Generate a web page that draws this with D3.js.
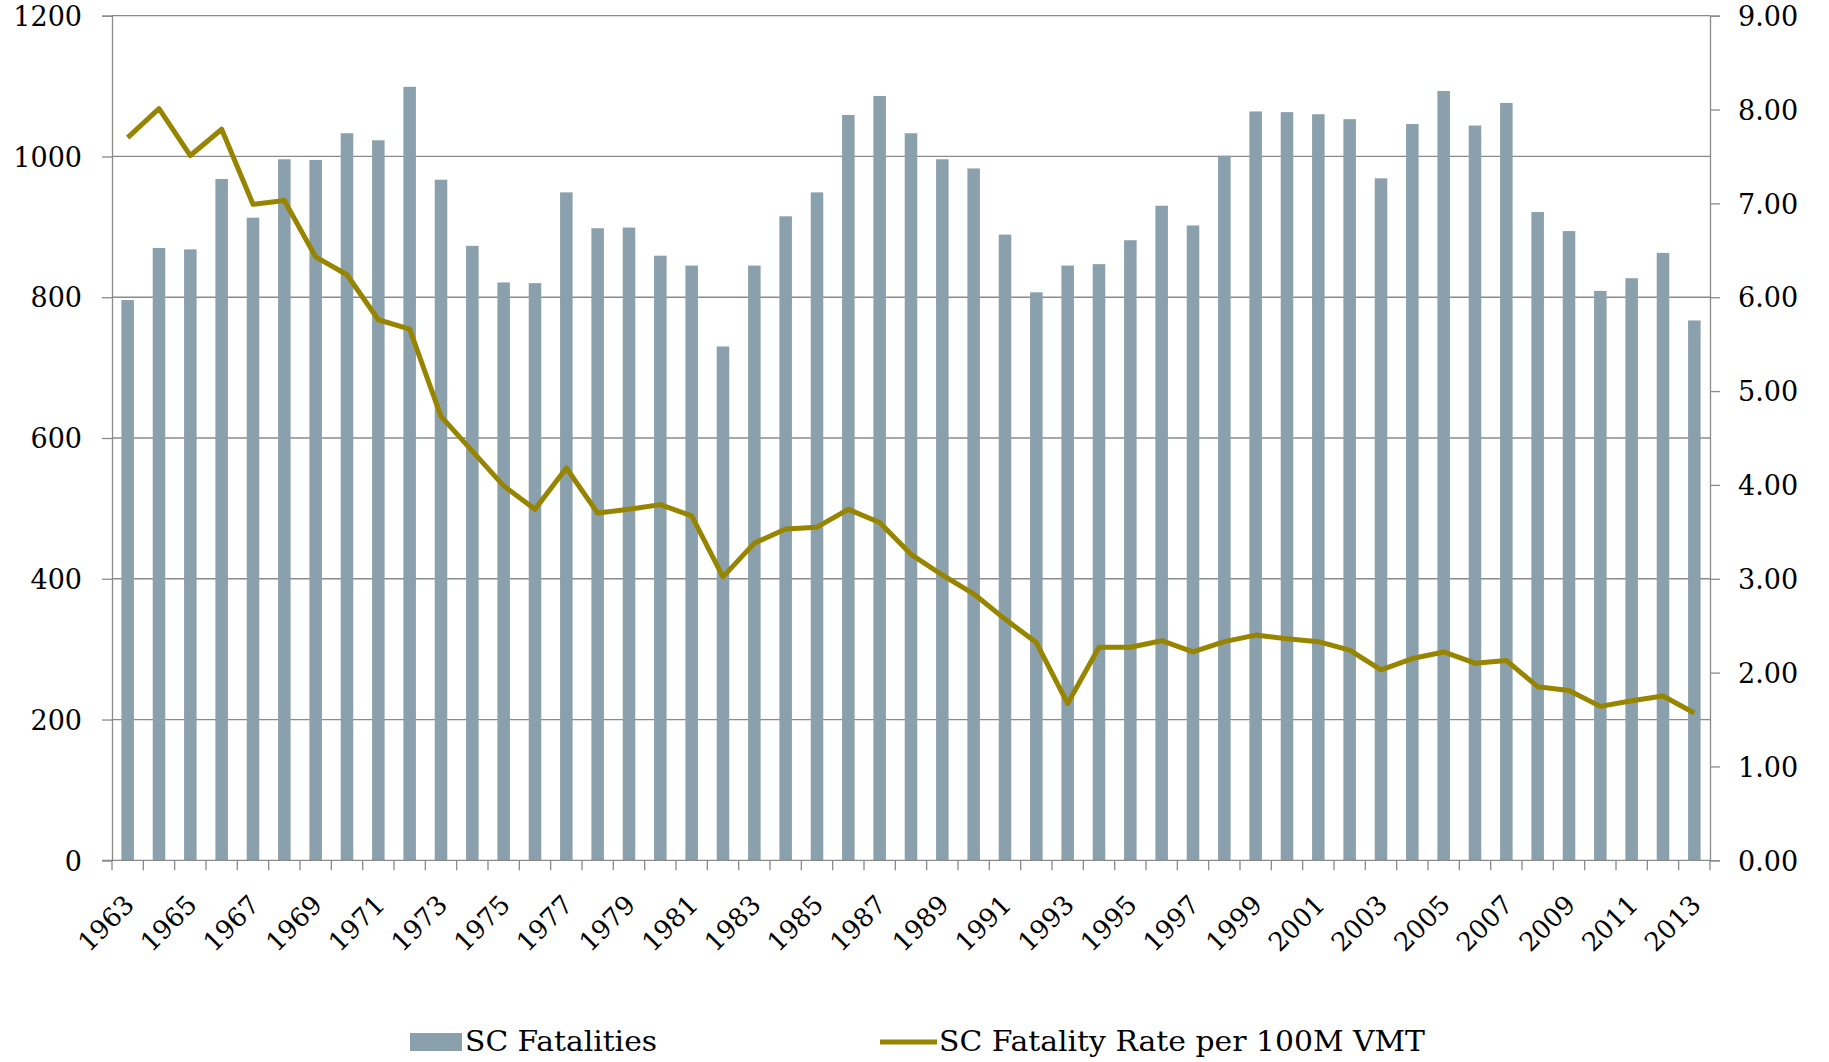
<!DOCTYPE html>
<html>
<head>
<meta charset="utf-8">
<script src="https://cdn.jsdelivr.net/npm/d3@7"></script>
<style>
  body { margin: 0; background: #fff; }
  svg text { font-family: "DejaVu Serif", Georgia, serif; fill: #000; }
</style>
</head>
<body>
<div id="chart"></div>
<script>
/*  Data  */
var years = d3.range(1963, 2014);
var fatalities = [796, 870, 868, 968, 913, 996, 995, 1033, 1023, 1099,
                  967, 873, 821, 820, 949, 898, 899, 859, 845, 730,
                  845, 915, 949, 1059, 1086, 1033, 996, 983, 889, 807,
                  845, 847, 881, 930, 902, 1001, 1064, 1063, 1060, 1053,
                  969, 1046, 1093, 1044, 1076, 921, 894, 809, 827, 863, 767];
var rates = [7.70, 8.01, 7.51, 7.79, 6.99, 7.03, 6.43, 6.24, 5.76, 5.66,
             4.73, 4.36, 3.99, 3.74, 4.18, 3.70, 3.74, 3.79, 3.67, 3.02,
             3.38, 3.53, 3.55, 3.74, 3.60, 3.26, 3.04, 2.84, 2.57, 2.32,
             1.67, 2.27, 2.27, 2.34, 2.22, 2.33, 2.40, 2.36, 2.33, 2.24,
             2.03, 2.15, 2.22, 2.10, 2.13, 1.85, 1.81, 1.64, 1.70, 1.75, 1.57];
var leftTicks = [0, 200, 400, 600, 800, 1000, 1200];
var rightTicks = [0, 1, 2, 3, 4, 5, 6, 7, 8, 9];
var seriesNames = ["SC Fatalities", "SC Fatality Rate per 100M VMT"];

var W = 1829, H = 1062;
var pLeft = 112, pRight = 1710, pTop = 15.7, pBottom = 860.3;
var barColor = "#8aa0ac", lineColor = "#978400", gridColor = "#8a8a8a";

var svg = d3.select("#chart").append("svg")
            .attr("width", W).attr("height", H);

var x = d3.scaleBand().domain(years).range([pLeft, pRight]).padding(0);
var yL = d3.scaleLinear().domain([0, 1200]).range([pBottom, pTop]);
var yR = d3.scaleLinear().domain([0, 9]).range([pBottom, pTop]);
var bw = x.bandwidth() * 0.4;

/*  grid  */
svg.append("g").selectAll("line").data(leftTicks.slice(1)).enter().append("line")
   .attr("x1", pLeft).attr("x2", pRight)
   .attr("y1", function(d){ return yL(d); }).attr("y2", function(d){ return yL(d); })
   .style("stroke", gridColor).style("stroke-width", 1.3);

/*  bars  */
svg.append("g").selectAll("rect").data(fatalities).enter().append("rect")
   .attr("x", function(d, i){ return x(years[i]) + (x.bandwidth() - bw) / 2; })
   .attr("y", function(d){ return yL(d); })
   .attr("width", bw)
   .attr("height", function(d){ return pBottom - yL(d); })
   .style("fill", barColor);

/*  line  */
var line = d3.line()
   .x(function(d, i){ return x(years[i]) + x.bandwidth() / 2; })
   .y(function(d){ return yR(d); });
svg.append("path").datum(rates)
   .attr("d", line)
   .style("fill", "none").style("stroke", lineColor)
   .style("stroke-width", 5).style("stroke-linejoin", "round");

/*  left axis  */
var gl = svg.append("g").attr("transform", "translate(" + pLeft + ",0)")
   .call(d3.axisLeft(yL).tickValues(leftTicks).tickSize(10).tickPadding(20)
         .tickFormat(d3.format("d")));
/*  right axis  */
var gr = svg.append("g").attr("transform", "translate(" + pRight + ",0)")
   .call(d3.axisRight(yR).tickValues(rightTicks).tickSize(10).tickPadding(18)
         .tickFormat(d3.format(".2f")));
[gl, gr].forEach(function(g){
  g.select(".domain").style("stroke", gridColor).style("stroke-width", 1.3);
  g.selectAll(".tick line").style("stroke", gridColor).style("stroke-width", 1.3);
  g.selectAll(".tick text").style("font-size", "27px").attr("dy", "0.36em");
});

/*  bottom axis  */
svg.append("line").attr("x1", pLeft - 10).attr("x2", pRight)
   .attr("y1", pBottom).attr("y2", pBottom)
   .style("stroke", gridColor).style("stroke-width", 1.3);
var edges = years.map(function(y){ return x(y); }).concat([pRight]);
svg.append("g").selectAll("line").data(edges).enter().append("line")
   .attr("x1", function(d){ return d; }).attr("x2", function(d){ return d; })
   .attr("y1", pBottom).attr("y2", pBottom + 10)
   .style("stroke", gridColor).style("stroke-width", 1.3);
svg.append("g").selectAll("text")
   .data(years.filter(function(y){ return (y - 1963) % 2 === 0; }))
   .enter().append("text")
   .attr("transform", function(d){
      return "translate(" + (x(d) + x.bandwidth() / 2 + 8) + "," + (pBottom + 46) + ") rotate(-45)";
   })
   .attr("text-anchor", "end")
   .style("font-size", "26px")
   .text(function(d){ return d; });

/*  legend  */
var lg = svg.append("g");
lg.append("rect").attr("x", 410).attr("y", 1033).attr("width", 52).attr("height", 18)
  .style("fill", barColor);
lg.append("text").attr("x", 465).attr("y", 1051).style("font-size", "28px")
  .attr("textLength", 192).attr("lengthAdjust", "spacingAndGlyphs")
  .text(seriesNames[0]);
lg.append("line").attr("x1", 880).attr("x2", 937).attr("y1", 1042).attr("y2", 1042)
  .style("stroke", lineColor).style("stroke-width", 5);
lg.append("text").attr("x", 939).attr("y", 1051).style("font-size", "28px")
  .attr("textLength", 486).attr("lengthAdjust", "spacingAndGlyphs")
  .text(seriesNames[1]);
</script>
</body>
</html>
